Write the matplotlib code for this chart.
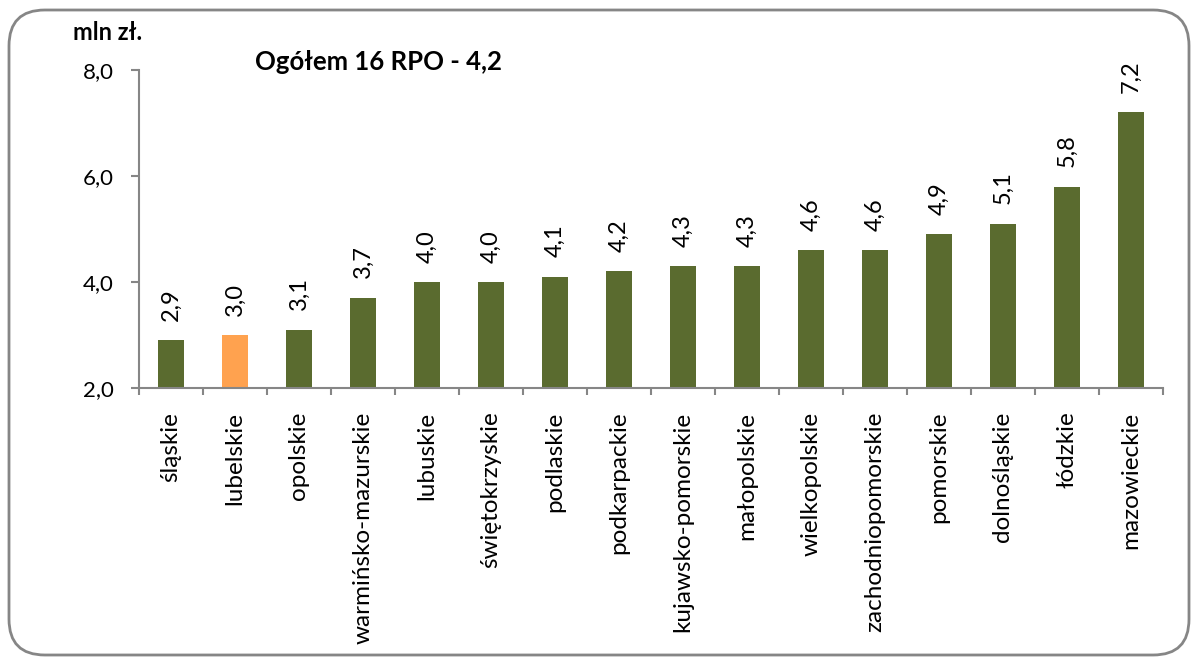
import matplotlib.pyplot as plt
from matplotlib.patches import FancyBboxPatch
import numpy as np

plt.rcParams['font.family'] = ['Lato', 'DejaVu Sans']

regions = ["śląskie", "lubelskie", "opolskie", "warmińsko-mazurskie", "lubuskie",
           "świętokrzyskie", "podlaskie", "podkarpackie", "kujawsko-pomorskie",
           "małopolskie", "wielkopolskie", "zachodniopomorskie", "pomorskie",
           "dolnośląskie", "łódzkie", "mazowieckie"]
values = [2.9, 3.0, 3.1, 3.7, 4.0, 4.0, 4.1, 4.2, 4.3, 4.3, 4.6, 4.6, 4.9, 5.1, 5.8, 7.2]
highlight = "lubelskie"

green = "#5A6B2F"
orange = "#FFA24F"
gray = "#868686"

fig = plt.figure(figsize=(11.94, 6.59), dpi=100)
ax = fig.add_axes([0.1164, 0.4112, 0.974 - 0.1164, 0.8938 - 0.4112])

x = np.arange(len(regions))
colors = [orange if r == highlight else green for r in regions]
ax.bar(x, np.array(values) - 2.0, bottom=2.0, width=0.42, color=colors)

# etykiety wartości nad słupkami
for xi, v in zip(x, values):
    ax.annotate("{:.1f}".format(v).replace(".", ","), (xi, v), xytext=(0, 14),
                textcoords="offset points", rotation=90, ha="center", va="bottom",
                fontsize=17)

ax.set_xlim(-0.5, len(regions) - 0.5)
ax.set_ylim(2.0, 8.0)
ax.set_yticks([2.0, 4.0, 6.0, 8.0])
ax.set_yticklabels(["2,0", "4,0", "6,0", "8,0"], fontsize=16)
ax.set_xticks(x)
ax.set_xticklabels(regions, rotation=90, fontsize=17.5)
ax.set_xticks(np.arange(len(regions) + 1) - 0.5, minor=True)
ax.tick_params(axis="x", which="major", length=0, pad=17)
ax.tick_params(axis="x", which="minor", length=5, color=gray, width=1.5, direction="out")
ax.tick_params(axis="y", length=6, color=gray, width=1.5, direction="out", pad=12)

for s in ["top", "right"]:
    ax.spines[s].set_visible(False)
for s in ["left", "bottom"]:
    ax.spines[s].set_color(gray)
    ax.spines[s].set_linewidth(1.5)

fig.text(73 / 1194, 1 - 32 / 659, "mln zł.", fontsize=17, fontweight="bold",
         ha="left", va="center")
fig.text(255 / 1194, 1 - 62 / 659, "Ogółem 16 RPO - 4,2", fontsize=18.5,
         fontweight="bold", ha="left", va="center")

frame = FancyBboxPatch((9 / 1194, 4 / 659), 1180 / 1194, 645 / 659,
                       boxstyle="round,pad=0,rounding_size=0.03",
                       transform=fig.transFigure, fill=False, edgecolor=gray,
                       linewidth=2, mutation_aspect=1194 / 659)
fig.patches.append(frame)

fig.savefig("out.png", dpi=100)
